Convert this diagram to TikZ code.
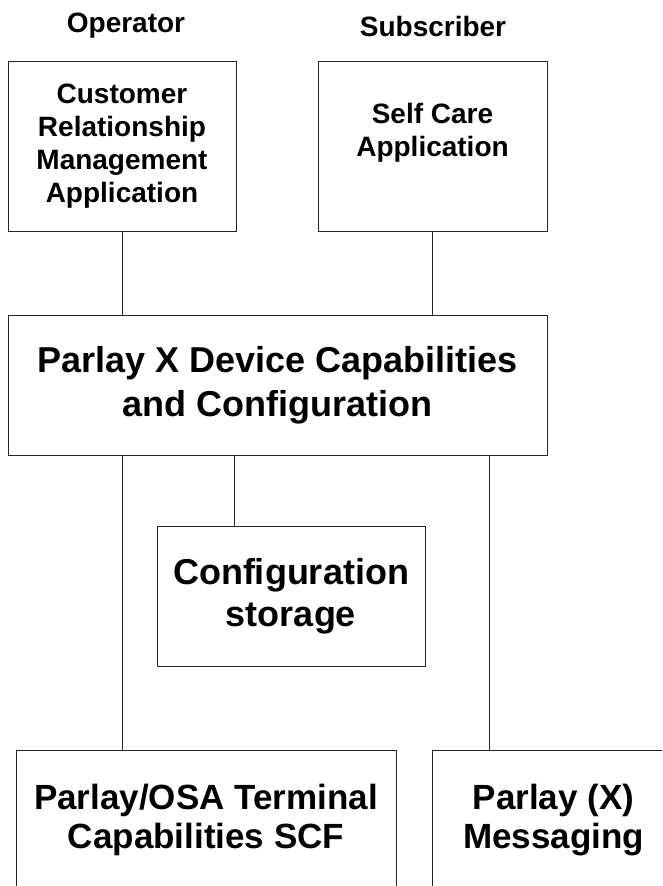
\documentclass[tikz,border=0pt]{standalone}
\usepackage{fontspec}
\setmainfont{Liberation Sans}
\tikzset{
  box/.style={draw=black!85,line width=0.9pt,align=center,inner sep=0pt,font=\bfseries},
  who/.style={font=\bfseries\fontsize{28}{33}\selectfont}
}
\begin{document}
\begin{tikzpicture}[x=1pt,y=-1pt]

  %--- page frame ---
  \useasboundingbox (0,0) rectangle (662,886);
  \clip (0,0) rectangle (662,886);

  %--- actors ---
  \node[who] (operator)   at (126,26) {Operator};
  \node[who] (subscriber) at (433,26) {Subscriber};

  %--- applications ---
  \node[box,minimum width=228pt,minimum height=170pt,
        font=\bfseries\fontsize{28}{33}\selectfont] (crm) at (122,146)
        {Customer\\Relationship\\Management\\Application};
  \node[box,minimum width=229pt,minimum height=170pt,
        font=\bfseries\fontsize{28}{33}\selectfont] (selfcare) at (432.5,146)
        {Self Care\\Application\\~};

  %--- Parlay X service ---
  \node[box,minimum width=539pt,minimum height=140pt,
        font=\bfseries\fontsize{36}{44}\selectfont] (parlayx) at (277.5,385)
        {Parlay X Device Capabilities\\and Configuration};

  %--- storage ---
  \node[box,minimum width=268pt,minimum height=140pt,
        font=\bfseries\fontsize{36}{42}\selectfont] (storage) at (291,596)
        {Configuration\\storage};

  %--- underlying SCFs (cut by the page edge) ---
  \node[box,anchor=north,minimum width=380pt,minimum height=170pt,
        font=\bfseries\fontsize{35}{39}\selectfont] (osa) at (206,750)
        {Parlay/OSA Terminal\\Capabilities SCF\\~};
  \node[box,anchor=north west,minimum width=242pt,minimum height=170pt,
        font=\bfseries\fontsize{35}{39}\selectfont] (msg) at (432,750)
        {Parlay (X)\\Messaging\\~};

  %--- links ---
  \draw[black!85,line width=0.9pt] (crm.south) -- (crm.south |- parlayx.north);
  \draw[black!85,line width=0.9pt] (selfcare.south) -- (selfcare.south |- parlayx.north);
  \draw[black!85,line width=0.9pt] (crm.south |- parlayx.south) -- (crm.south |- osa.north);
  \coordinate (tostore) at ([xshift=-57pt]storage.north);
  \draw[black!85,line width=0.9pt] (tostore |- parlayx.south) -- (tostore);
  \coordinate (tomsg) at ([xshift=57pt]msg.north west);
  \draw[black!85,line width=0.9pt] (tomsg |- parlayx.south) -- (tomsg);

\end{tikzpicture}
\end{document}
